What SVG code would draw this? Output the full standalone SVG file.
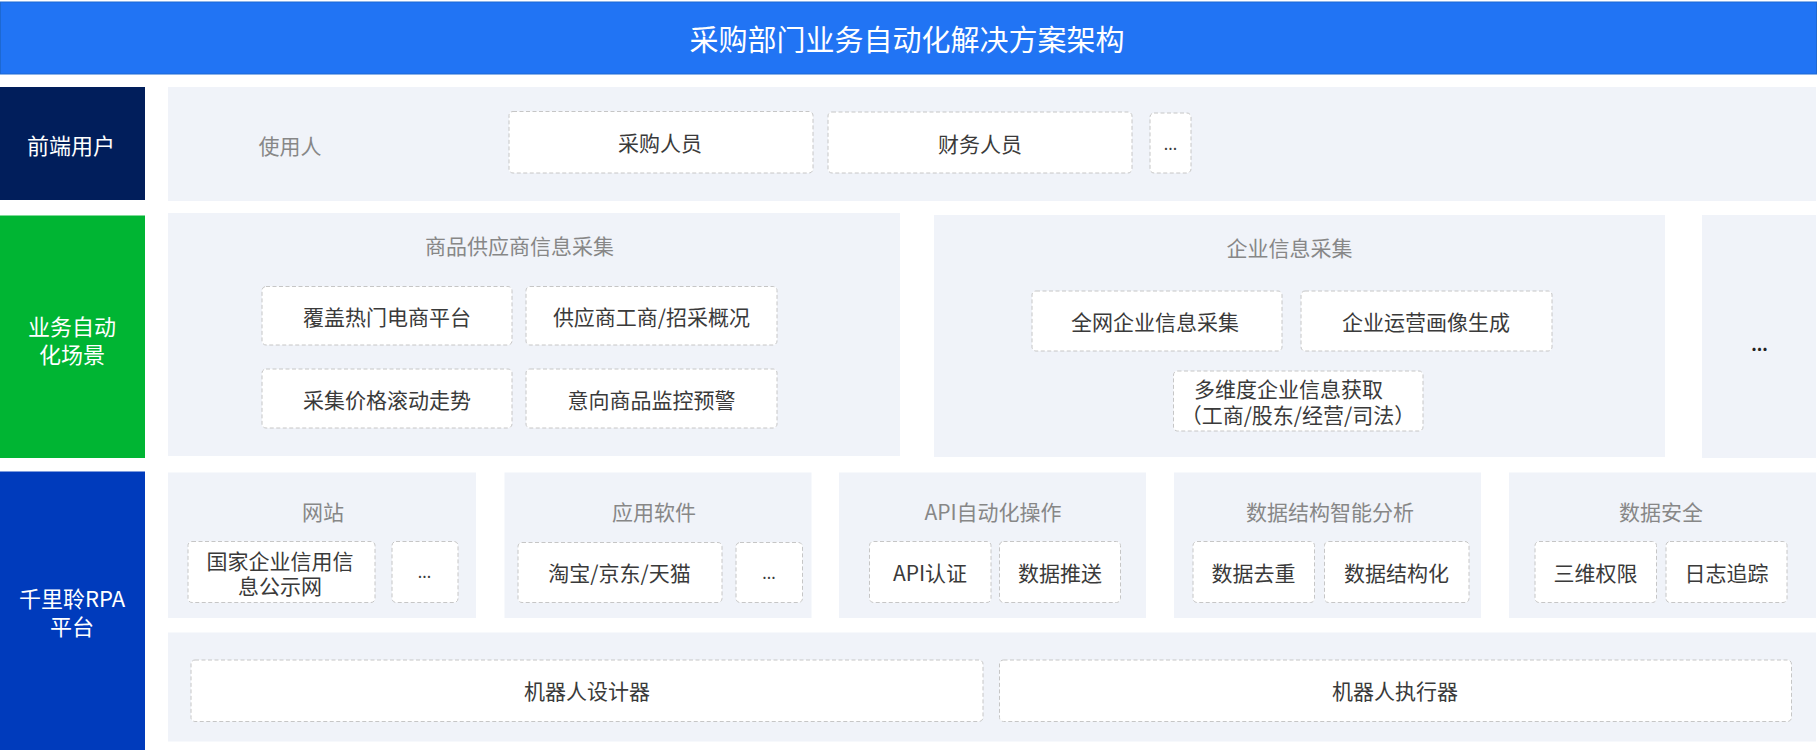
<svg xmlns="http://www.w3.org/2000/svg" width="1818" height="750" viewBox="0 0 1818 750">
<style>
text{font-family:"Noto Sans CJK SC","Noto Sans",sans-serif;dominant-baseline:central;text-anchor:middle}
.panel{fill:#F0F3F9}
.box{fill:#FFFFFF;stroke:#C6C6C6;stroke-width:1;stroke-dasharray:4 2.5}
.t{font-size:21px;fill:#3A3A3A}
.g{font-size:21px;fill:#878787}
.lbl{font-size:22px;fill:#FFFFFF}
</style>
<rect width="1818" height="750" fill="#FFFFFF"/>
<g id="title">
<rect x="0.5" y="2" width="1816" height="72" fill="#2174F4" stroke="#1D68D2" stroke-width="1"/>
<text x="907" y="38" style="font-size:29px;fill:#FFFFFF">采购部门业务自动化解决方案架构</text>
</g>
<g id="row-frontend">
<rect x="0" y="87" width="145" height="113" fill="#011E5B"/>
<text class="lbl" x="71" y="144">前端用户</text>
<rect class="panel" x="168" y="87" width="1648" height="114"/>
<text class="g" x="290" y="145">使用人</text>
</g>
<g id="node-caigou"><rect class="box" x="509" y="111.5" width="304" height="61.5" rx="4"/><text class="t" x="660" y="142">采购人员</text></g>
<g id="node-caiwu"><rect class="box" x="828" y="112" width="304" height="61" rx="4"/><text class="t" x="980" y="142.5">财务人员</text></g>
<g id="node-user-more"><rect class="box" x="1150" y="113" width="41" height="60" rx="4"/><text class="t" x="1170.5" y="143" style="font-size:16px">...</text></g>

<g id="row-scene">
<rect x="0" y="215.5" width="145" height="242.5" fill="#00B533"/>
<text class="lbl" y="325"><tspan x="72">业务自动</tspan><tspan x="72" dy="28">化场景</tspan></text>
</g>
<g id="panel-goods">
<rect class="panel" x="168" y="213" width="732" height="243"/>
<text class="g" x="519.5" y="245">商品供应商信息采集</text>
</g>
<g id="node-g1"><rect class="box" x="262" y="286.5" width="250" height="58.5" rx="4"/><text class="t" x="387" y="316">覆盖热门电商平台</text></g>
<g id="node-g2"><rect class="box" x="526" y="286.5" width="251" height="58.5" rx="4"/><text class="t" x="651.5" y="316">供应商工商/招采概况</text></g>
<g id="node-g3"><rect class="box" x="262" y="369" width="250" height="59" rx="4"/><text class="t" x="387" y="398.5">采集价格滚动走势</text></g>
<g id="node-g4"><rect class="box" x="526" y="369" width="251" height="59" rx="4"/><text class="t" x="651.5" y="398.5">意向商品监控预警</text></g>
<g id="panel-enterprise">
<rect class="panel" x="934" y="215" width="731" height="242"/>
<text class="g" x="1289.5" y="247">企业信息采集</text>
</g>
<g id="node-e1"><rect class="box" x="1032" y="291" width="250" height="60" rx="4"/><text class="t" x="1155" y="320.5">全网企业信息采集</text></g>
<g id="node-e2"><rect class="box" x="1301" y="291" width="251" height="60" rx="4"/><text class="t" x="1426" y="320.5">企业运营画像生成</text></g>
<g id="node-e3"><rect class="box" x="1173.5" y="371" width="249.5" height="60" rx="4"/>
<text class="t" y="388"><tspan x="1288.5">多维度企业信息获取</tspan><tspan x="1298" dy="25.5">（工商/股东/经营/司法）</tspan></text></g>
<g id="panel-scene-more">
<rect class="panel" x="1702" y="215" width="114" height="243"/>
<text class="t" x="1759.5" y="343" style="font-size:17px;fill:#222;font-weight:bold">...</text>
</g>

<g id="row-platform">
<rect x="0" y="471.5" width="145" height="278.5" fill="#003BBC"/>
<text class="lbl" y="597"><tspan x="72">千里聆RPA</tspan><tspan x="72" dy="28">平台</tspan></text>
</g>
<g id="panel-web">
<rect class="panel" x="168" y="472.5" width="308" height="145.5"/>
<text class="g" x="323" y="510.5">网站</text>
</g>
<g id="node-w1"><rect class="box" x="188" y="541.5" width="187" height="61" rx="4"/>
<text class="t" y="560"><tspan x="280">国家企业信用信</tspan><tspan x="280" dy="25">息公示网</tspan></text></g>
<g id="node-w2"><rect class="box" x="392" y="541.5" width="66" height="61" rx="4"/><text class="t" x="424.5" y="571" style="font-size:16px">...</text></g>
<g id="panel-app">
<rect class="panel" x="504.5" y="472.5" width="307" height="145.5"/>
<text class="g" x="654" y="510.5">应用软件</text>
</g>
<g id="node-a1"><rect class="box" x="518" y="542.5" width="204" height="60" rx="4"/><text class="t" x="619.5" y="572">淘宝/京东/天猫</text></g>
<g id="node-a2"><rect class="box" x="736" y="542.5" width="66.5" height="60" rx="4"/><text class="t" x="769" y="572" style="font-size:16px">...</text></g>
<g id="panel-api">
<rect class="panel" x="839" y="472.5" width="307" height="145.5"/>
<text class="g" x="993" y="510.5">API自动化操作</text>
</g>
<g id="node-p1"><rect class="box" x="869.5" y="541.5" width="121.5" height="61" rx="4"/><text class="t" x="930" y="572">API认证</text></g>
<g id="node-p2"><rect class="box" x="999.5" y="541.5" width="121" height="61" rx="4"/><text class="t" x="1060" y="572">数据推送</text></g>
<g id="panel-struct">
<rect class="panel" x="1174" y="472.5" width="307" height="145.5"/>
<text class="g" x="1330" y="510.5">数据结构智能分析</text>
</g>
<g id="node-s1"><rect class="box" x="1193" y="541.5" width="121.5" height="61" rx="4"/><text class="t" x="1253.5" y="572">数据去重</text></g>
<g id="node-s2"><rect class="box" x="1324.5" y="541.5" width="144.5" height="61" rx="4"/><text class="t" x="1396.5" y="572">数据结构化</text></g>
<g id="panel-security">
<rect class="panel" x="1509" y="472.5" width="307" height="145.5"/>
<text class="g" x="1661" y="510.5">数据安全</text>
</g>
<g id="node-x1"><rect class="box" x="1535" y="541.5" width="121.5" height="61" rx="4"/><text class="t" x="1595.5" y="572">三维权限</text></g>
<g id="node-x2"><rect class="box" x="1666" y="541.5" width="121" height="61" rx="4"/><text class="t" x="1726.5" y="572">日志追踪</text></g>
<g id="panel-robot">
<rect class="panel" x="168" y="632.5" width="1648" height="109"/>
</g>
<g id="node-designer"><rect class="box" x="191" y="660" width="792" height="61.5" rx="4"/><text class="t" x="587" y="690">机器人设计器</text></g>
<g id="node-executor"><rect class="box" x="999.5" y="660" width="792" height="61.5" rx="4"/><text class="t" x="1395" y="690">机器人执行器</text></g>
<g id="connectors"></g>
</svg>
